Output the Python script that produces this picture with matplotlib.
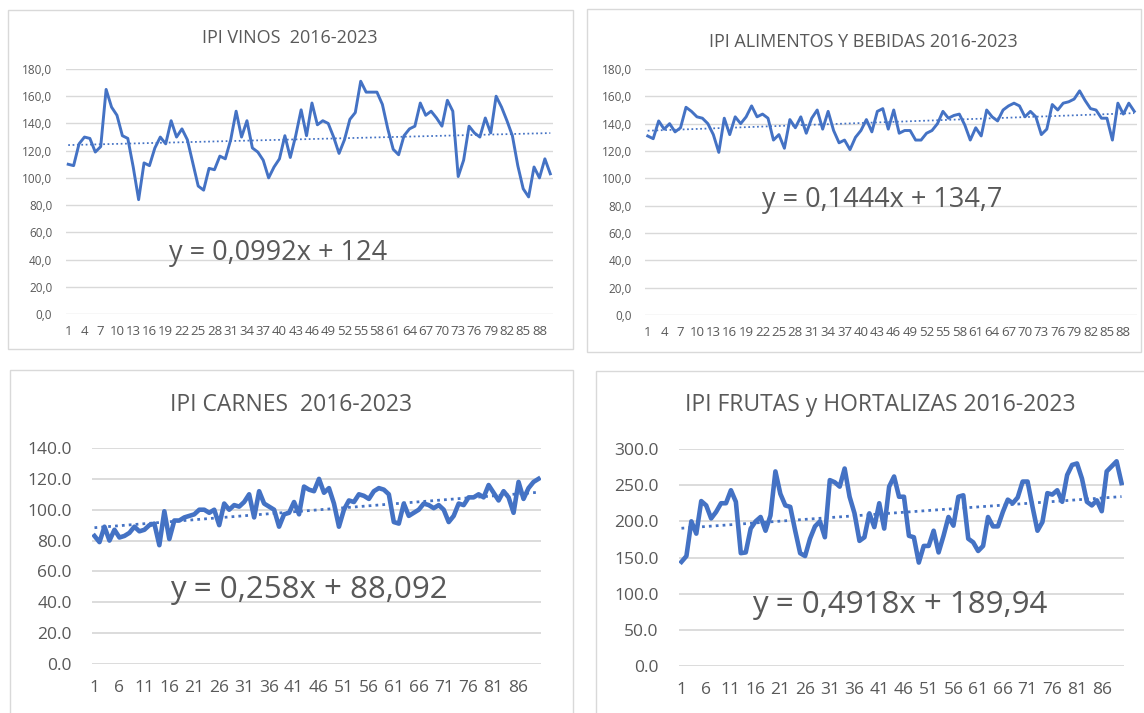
import numpy as np
import matplotlib
matplotlib.use('Agg')
import matplotlib.pyplot as plt
from matplotlib.patches import Rectangle
from matplotlib.ticker import FuncFormatter

W, H = 1144, 713

# monthly index values, 90 periods
vinos = [110, 109, 125, 130, 129, 119, 123, 165, 152, 146,
         131, 129, 108, 84, 111, 109, 122, 130, 125, 142,
         130, 136, 128, 111, 94, 91, 107, 106, 116, 114,
         128, 149, 130, 142, 122, 119, 113, 100, 108, 114,
         131, 115, 131, 150, 131, 155, 139, 142, 140, 130,
         118, 128, 143, 148, 171, 163, 163, 163, 154, 136,
         121, 117, 131, 136, 138, 155, 146, 149, 144, 138,
         157, 149, 101, 113, 138, 133, 130, 144, 133, 160,
         152, 142, 131, 109, 92, 86, 108, 100, 114, 103]

alimentos = [131, 129, 142, 136, 140, 134, 137, 152, 149, 145,
             144, 140, 132, 119, 144, 132, 145, 140, 145, 153,
             145, 147, 144, 128, 132, 122, 143, 137, 145, 133,
             144, 150, 136, 149, 135, 126, 128, 121, 130, 135,
             143, 134, 149, 151, 136, 150, 133, 135, 135, 128,
             128, 133, 135, 140, 149, 144, 146, 147, 139, 128,
             137, 131, 150, 145, 142, 150, 153, 155, 153, 145,
             149, 145, 132, 136, 154, 150, 155, 156, 158, 164,
             157, 151, 150, 144, 144, 128, 155, 147, 155, 149]

carnes = [83, 79, 89, 80, 87, 82, 83, 85, 89, 86,
          87, 90, 91, 77, 99, 81, 93, 93, 95, 96,
          97, 100, 100, 98, 100, 90, 104, 100, 103, 102,
          105, 110, 95, 112, 104, 102, 100, 89, 97, 98,
          105, 97, 115, 113, 112, 120, 111, 114, 104, 89,
          100, 106, 105, 110, 109, 107, 112, 114, 113, 110,
          92, 91, 104, 96, 98, 100, 104, 103, 101, 103,
          100, 92, 96, 104, 103, 108, 108, 110, 108, 116,
          111, 106, 112, 108, 98, 118, 107, 114, 118, 120]

frutas = [144, 152, 200, 183, 228, 222, 204, 213, 225, 225,
          243, 227, 156, 157, 190, 200, 206, 187, 208, 269,
          238, 222, 220, 187, 156, 152, 176, 193, 200, 178,
          257, 254, 248, 273, 234, 211, 173, 178, 211, 192,
          225, 190, 248, 262, 234, 234, 180, 178, 143, 166,
          166, 187, 157, 180, 206, 194, 234, 236, 176, 171,
          159, 166, 206, 193, 193, 213, 230, 225, 233, 255,
          255, 220, 187, 199, 239, 237, 243, 227, 264, 278,
          280, 259, 227, 222, 229, 214, 269, 276, 283, 253]

titles = ['IPI VINOS  2016-2023', 'IPI ALIMENTOS Y BEBIDAS 2016-2023',
          'IPI CARNES  2016-2023', 'IPI FRUTAS y HORTALIZAS 2016-2023']
equations = ['y = 0,0992x + 124', 'y = 0,1444x + 134,7',
             'y = 0,258x + 88,092', 'y = 0,4918x + 189,94']
slopes = [0.0992, 0.1444, 0.258, 0.4918]
intercepts = [124, 134.7, 88.092, 189.94]
y_max = [180, 180, 140, 300]
y_step = [20, 20, 20, 50]
x_step = [3, 3, 5, 5]
decimal_comma = [True, True, False, False]

BLUE = '#4472C4'
GRID = '#D9D9D9'
TEXT = '#595959'

plt.rcParams['font.family'] = ['Open Sans', 'DejaVu Sans']


def px_rect(left, top, right, bottom):
    return [left / W, 1 - bottom / H, (right - left) / W, (bottom - top) / H]


def draw_panel(fig, i, values, frame, plot, title_xy, eq_xy, small):
    fig.patches.append(Rectangle((frame[0] / W, 1 - frame[3] / H),
                                 (frame[2] - frame[0]) / W,
                                 (frame[3] - frame[1]) / H,
                                 transform=fig.transFigure, fill=False,
                                 edgecolor=GRID, lw=1.0))
    ax = fig.add_axes(px_rect(*plot))
    x = np.arange(1, len(values) + 1)
    lw = 2.1 if small else 3.3
    ax.plot(x, slopes[i] * x + intercepts[i], color=BLUE,
            lw=lw * 0.6, ls=(0, (1, 1.5)))
    ax.plot(x, values, color=BLUE, lw=lw, solid_joinstyle='round')
    ax.set_xlim(0.5, len(values) + 0.5)
    ax.set_ylim(0, y_max[i])
    ax.set_yticks(np.arange(0, y_max[i] + 1, y_step[i]))
    ax.set_xticks(np.arange(1, len(values) + 1, x_step[i]))
    if decimal_comma[i]:
        ax.yaxis.set_major_formatter(
            FuncFormatter(lambda v, p: f'{v:.1f}'.replace('.', ',')))
    else:
        ax.yaxis.set_major_formatter(FuncFormatter(lambda v, p: f'{v:.1f}'))
    for s in ax.spines.values():
        s.set_visible(False)
    ax.grid(axis='y', color=GRID, lw=1.0 if small else 1.3)
    ax.set_axisbelow(True)
    ax.tick_params(axis='both', length=0, labelcolor=TEXT)
    ax.tick_params(axis='y', labelsize=8.5 if small else 12.5,
                   pad=9.5 if small else 14.5)
    ax.tick_params(axis='x', labelsize=9.5 if small else 12.5,
                   pad=8 if small else 11.5)
    fig.text(title_xy[0] / W, 1 - title_xy[1] / H, titles[i],
             ha='center', va='center', color=TEXT,
             fontsize=13 if small else 16.5)
    fig.text(eq_xy[0] / W, 1 - eq_xy[1] / H, equations[i],
             ha='center', va='center', color=TEXT,
             fontsize=19.5 if small else 22.5)


def main():
    fig = plt.figure(figsize=(W / 100, H / 100), dpi=100)
    fig.patch.set_facecolor('white')
    draw_panel(fig, 0, vinos, (8, 10, 573, 349), (65.5, 69, 553, 314),
               (290, 38), (278, 253), True)
    draw_panel(fig, 1, alimentos, (587, 9, 1141, 352), (645, 69, 1137, 315),
               (863, 42), (882, 200), True)
    draw_panel(fig, 2, carnes, (10, 370, 573, 720), (92, 448, 541, 664),
               (291, 405), (309, 590), False)
    draw_panel(fig, 3, frutas, (596, 371, 1150, 720), (679, 449, 1124, 666),
               (880, 405), (900, 605), False)
    fig.savefig('out.png', dpi=100)


if __name__ == '__main__':
    main()
